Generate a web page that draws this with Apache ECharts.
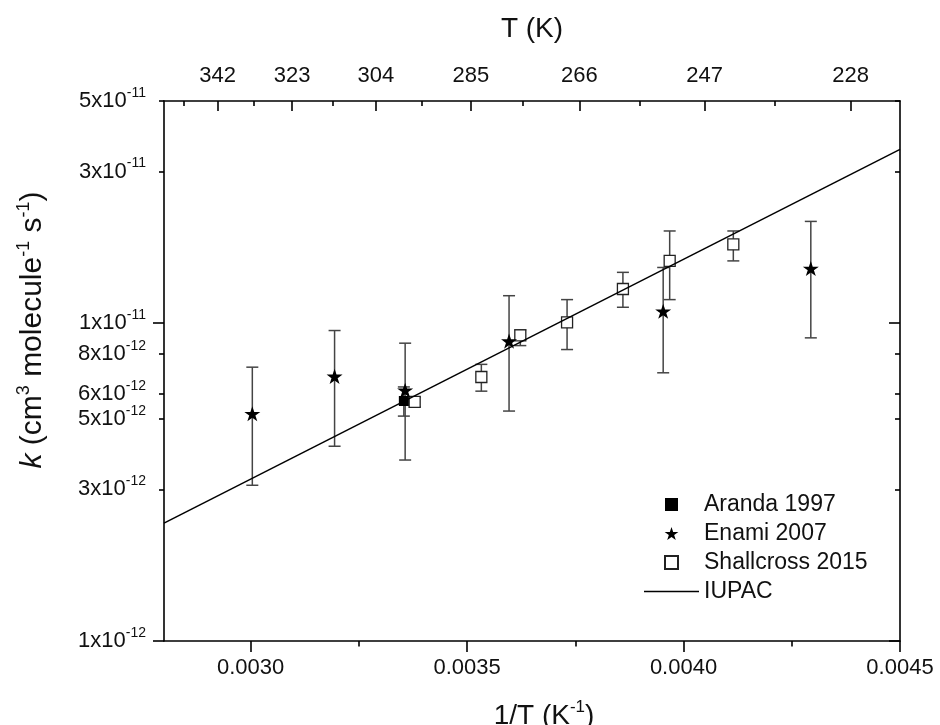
<!DOCTYPE html>
<html>
<head>
<meta charset="utf-8">
<title>k vs 1/T</title>
<script src="https://cdn.jsdelivr.net/npm/echarts@6/dist/echarts.min.js"></script>
<style>
  html, body { margin: 0; padding: 0; background: #fff; }
  #chart { width: 940px; height: 725px; }
</style>
</head>
<body>
<div id="chart"></div>
<script>
var fontFamily = "Liberation Sans, Arial, sans-serif";

// axis ranges (x = 1/T in K-1, y = k)
var xMin = 0.0028, xMax = 0.0045;
var yMin = 1e-12, yMax = 5e-11;

// tick positions / labels
var xMajorTicks = [0.0030, 0.0035, 0.0040, 0.0045];
var xMinorTicks = [0.00325, 0.00375, 0.00425];
var topTempLabels = [342, 323, 304, 285, 266, 247, 228];
var topTempMinor = [351.5, 332.5, 313.5, 294.5, 275.5, 256.5, 237.5];
var yTickValues = [1e-12, 3e-12, 5e-12, 6e-12, 8e-12, 1e-11, 3e-11, 5e-11];
var yMajorTicks = [1e-12, 1e-11];
var yMinorTicks = [3e-12, 5e-12, 6e-12, 8e-12, 3e-11, 5e-11];

// Aranda 1997
var arandaX = [0.003354];
var arandaK = [5.69e-12];
var arandaLo = [5.1e-12];
var arandaHi = [6.3e-12];

// Enami 2007
var enamiX = [0.003004, 0.003194, 0.003357, 0.003597, 0.003953, 0.004294];
var enamiK = [5.19e-12, 6.80e-12, 6.15e-12, 8.78e-12, 1.09e-11, 1.486e-11];
var enamiLo = [3.09e-12, 4.10e-12, 3.71e-12, 5.29e-12, 6.98e-12, 8.99e-12];
var enamiHi = [7.27e-12, 9.48e-12, 8.65e-12, 1.22e-11, 1.497e-11, 2.09e-11];

// Shallcross 2015
var shallX = [0.003379, 0.003533, 0.003623, 0.003731, 0.003860, 0.003968, 0.004115];
var shallK = [5.65e-12, 6.77e-12, 9.15e-12, 1.006e-11, 1.281e-11, 1.57e-11, 1.77e-11];
var shallLo = [5.45e-12, 6.11e-12, 8.5e-12, 8.26e-12, 1.122e-11, 1.186e-11, 1.57e-11];
var shallHi = [5.85e-12, 7.42e-12, 9.53e-12, 1.186e-11, 1.445e-11, 1.95e-11, 1.95e-11];

// IUPAC line end points
var iupacX = [0.0028, 0.0045];
var iupacK = [2.35e-12, 3.52e-11];

var starPath = "path://M50,0 L61.8,35.3 L99,35.3 L68.9,57.1 L80.4,92.4 L50,70.6 L19.6,92.4 L31.1,57.1 L1,35.3 L38.2,35.3 Z";
var squarePath = "path://M0,0 L10,0 L10,10 L0,10 Z";
var barPath = "path://M0,0 L110,0 L110,3 L0,3 Z";

var lg = Math.log10;

function points(xs, ks) {
  var out = [];
  for (var i = 0; i < xs.length; i++) out.push([xs[i], lg(ks[i])]);
  return out;
}

var errData = [];
function addErr(xs, lo, hi) {
  for (var i = 0; i < xs.length; i++) errData.push([xs[i], lg(lo[i]), lg(hi[i])]);
}
addErr(arandaX, arandaLo, arandaHi);
addErr(enamiX, enamiLo, enamiHi);
addErr(shallX, shallLo, shallHi);

function renderErr(params, api) {
  var x = api.value(0);
  var p1 = api.coord([x, api.value(1)]);
  var p2 = api.coord([x, api.value(2)]);
  var w = 6;
  var st = { stroke: "#444", lineWidth: 1.5 };
  return {
    type: "group",
    children: [
      { type: "line", shape: { x1: p1[0], y1: p1[1], x2: p2[0], y2: p2[1] }, style: st },
      { type: "line", shape: { x1: p1[0] - w, y1: p1[1], x2: p1[0] + w, y2: p1[1] }, style: st },
      { type: "line", shape: { x1: p2[0] - w, y1: p2[1], x2: p2[0] + w, y2: p2[1] }, style: st },
    ],
  };
}

function yLabel(v) {
  var best = 0;
  for (var i = 1; i < yTickValues.length; i++) {
    if (Math.abs(lg(yTickValues[i]) - v) < Math.abs(lg(yTickValues[best]) - v)) best = i;
  }
  var parts = yTickValues[best].toExponential().split("e");
  return "{b|" + parts[0] + "x10}{s|" + parts[1] + "}";
}

var axisColor = "#000";
var textColor = "#111";

var chart = echarts.init(document.getElementById("chart"));
var option = {
  animation: false,
  backgroundColor: "#fff",
  grid: { left: 164, right: 40, top: 101, bottom: 84, containLabel: false, outerBoundsMode: "none" },
  xAxis: [
    {
      type: "value",
      position: "bottom",
      min: xMin,
      max: xMax,
      axisLine: { show: true, onZero: false, lineStyle: { color: axisColor, width: 1.6 } },
      axisTick: { show: true, customValues: xMajorTicks, length: 11, lineStyle: { color: axisColor, width: 1.6 } },
      axisLabel: {
        customValues: xMajorTicks,
        formatter: function (v) { return v.toFixed(4); },
        fontSize: 22,
        fontFamily: fontFamily,
        color: textColor,
        margin: 16,
      },
      splitLine: { show: false },
      name: "1/T (K{s|-1})",
      nameLocation: "middle",
      nameGap: 58,
      nameTextStyle: {
        fontSize: 28,
        fontFamily: fontFamily,
        color: textColor,
        lineHeight: 34,
        padding: [0, 0, 0, 24],
        rich: { s: { fontSize: 17, fontFamily: fontFamily, color: textColor, verticalAlign: "top", lineHeight: 17 } },
      },
    },
    {
      type: "value",
      position: "bottom",
      min: xMin,
      max: xMax,
      axisLine: { show: false, onZero: false },
      axisTick: { show: true, customValues: xMinorTicks, length: 5.5, lineStyle: { color: axisColor, width: 1.6 } },
      axisLabel: { show: false },
      splitLine: { show: false },
    },
    {
      type: "value",
      position: "top",
      min: xMin,
      max: xMax,
      axisLine: { show: true, onZero: false, lineStyle: { color: axisColor, width: 1.6 } },
      axisTick: {
        show: true,
        inside: true,
        customValues: topTempLabels.map(function (t) { return 1 / t; }),
        length: 10,
        lineStyle: { color: axisColor, width: 1.6 },
      },
      axisLabel: {
        customValues: topTempLabels.map(function (t) { return 1 / t; }),
        formatter: function (v) { return String(Math.round(1 / v)); },
        fontSize: 22,
        fontFamily: fontFamily,
        color: textColor,
        margin: 14,
      },
      splitLine: { show: false },
      name: "T (K)",
      nameLocation: "middle",
      nameGap: 58,
      nameTextStyle: { fontSize: 28, fontFamily: fontFamily, color: textColor },
    },
    {
      type: "value",
      position: "top",
      min: xMin,
      max: xMax,
      axisLine: { show: false, onZero: false },
      axisTick: {
        show: true,
        inside: true,
        customValues: topTempMinor.map(function (t) { return 1 / t; }),
        length: 5,
        lineStyle: { color: axisColor, width: 1.6 },
      },
      axisLabel: { show: false },
      splitLine: { show: false },
    },
  ],
  yAxis: [
    {
      type: "value",
      position: "left",
      min: lg(yMin),
      max: lg(yMax),
      axisLine: { show: true, onZero: false, lineStyle: { color: axisColor, width: 1.6 } },
      axisTick: { show: true, customValues: yMajorTicks.map(lg), length: 11, lineStyle: { color: axisColor, width: 1.6 } },
      axisLabel: {
        customValues: yTickValues.map(lg),
        formatter: yLabel,
        margin: 18,
        color: textColor,
        rich: {
          b: { fontSize: 22, fontFamily: fontFamily, color: textColor, lineHeight: 30 },
          s: { fontSize: 14, fontFamily: fontFamily, color: textColor, verticalAlign: "top", lineHeight: 14 },
        },
      },
      splitLine: { show: false },
    },
    {
      type: "value",
      position: "left",
      min: lg(yMin),
      max: lg(yMax),
      axisLine: { show: false, onZero: false },
      axisTick: { show: true, customValues: yMinorTicks.map(lg), length: 5, lineStyle: { color: axisColor, width: 1.6 } },
      axisLabel: { show: false },
      splitLine: { show: false },
    },
    {
      type: "value",
      position: "right",
      min: lg(yMin),
      max: lg(yMax),
      axisLine: { show: true, onZero: false, lineStyle: { color: axisColor, width: 1.6 } },
      axisTick: { show: true, inside: true, customValues: yMajorTicks.map(lg), length: 11, lineStyle: { color: axisColor, width: 1.6 } },
      axisLabel: { show: false },
      splitLine: { show: false },
    },
    {
      type: "value",
      position: "right",
      min: lg(yMin),
      max: lg(yMax),
      axisLine: { show: false, onZero: false },
      axisTick: { show: true, inside: true, customValues: yMinorTicks.map(lg), length: 5, lineStyle: { color: axisColor, width: 1.6 } },
      axisLabel: { show: false },
      splitLine: { show: false },
    },
  ],
  legend: {
    orient: "vertical",
    left: 639,
    top: 488,
    itemWidth: 55,
    itemHeight: 13,
    itemGap: 6,
    selectedMode: false,
    symbolKeepAspect: true,
    textStyle: { fontSize: 23, fontFamily: fontFamily, color: textColor },
    data: [
      { name: "Aranda 1997", icon: squarePath },
      { name: "Enami 2007", icon: starPath },
      { name: "Shallcross 2015", icon: squarePath },
      { name: "IUPAC", icon: barPath },
    ],
  },
  graphic: [
    {
      type: "text",
      x: 33,
      y: 330,
      rotation: Math.PI / 2,
      style: {
        text: "{i|k} (cm{s|3} molecule{s|-1} s{s|-1})",
        fontSize: 30,
        fontFamily: fontFamily,
        fill: textColor,
        lineHeight: 36,
        align: "center",
        verticalAlign: "middle",
        rich: {
          i: { fontSize: 30, fontStyle: "italic", fontFamily: fontFamily, fill: textColor, lineHeight: 36 },
          s: { fontSize: 18, fontFamily: fontFamily, fill: textColor, verticalAlign: "top", lineHeight: 18 },
        },
      },
    },
  ],
  series: [
    {
      name: "errors",
      type: "custom",
      renderItem: renderErr,
      encode: { x: 0, y: [1, 2] },
      data: errData,
      z: 1,
      silent: true,
    },
    {
      name: "Shallcross 2015",
      type: "scatter",
      data: points(shallX, shallK),
      symbol: "rect",
      symbolSize: 11,
      itemStyle: { color: "#fff", borderColor: "#222", borderWidth: 1.3, opacity: 1 },
      z: 3,
    },
    {
      name: "Aranda 1997",
      type: "scatter",
      data: points(arandaX, arandaK),
      symbol: "rect",
      symbolSize: 10,
      itemStyle: { color: "#000", opacity: 1 },
      z: 3,
    },
    {
      name: "Enami 2007",
      type: "scatter",
      data: points(enamiX, enamiK),
      symbol: starPath,
      symbolSize: 16,
      symbolKeepAspect: true,
      itemStyle: { color: "#000", opacity: 1 },
      z: 4,
    },
    {
      name: "IUPAC",
      type: "line",
      data: points(iupacX, iupacK),
      symbol: "none",
      clip: true,
      lineStyle: { color: "#000", width: 1.5 },
      itemStyle: { color: "#000" },
      z: 5,
    },
  ],
};
chart.setOption(option);
</script>
</body>
</html>
